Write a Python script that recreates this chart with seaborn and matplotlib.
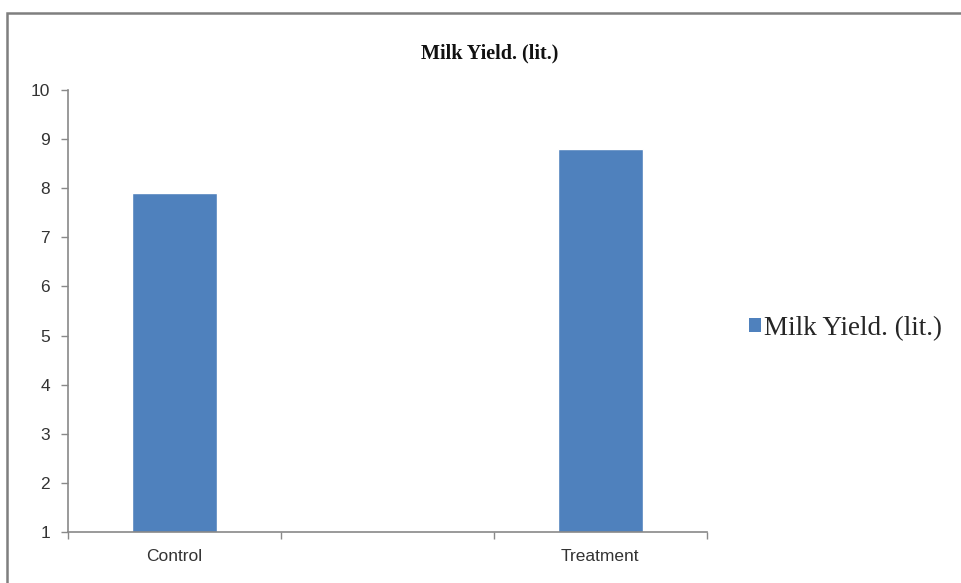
import numpy as np
import pandas as pd
import seaborn as sns
import matplotlib.pyplot as plt
from matplotlib.patches import Rectangle, Patch

# Milk yield per group (litres); the middle slot is an empty category
categories = ["Control", "", "Treatment"]
milk_yield = [7.9, np.nan, 8.8]
y_ticks = [1, 2, 3, 4, 5, 6, 7, 8, 9, 10]
series_name = "Milk Yield. (lit.)"

bar_color = "#4F81BD"
axis_color = "#898989"

sns.set_style("white")
plt.rcParams["font.family"] = ["Liberation Sans", "DejaVu Sans"]

df = pd.DataFrame({"group": categories, "value": milk_yield})

fig = plt.figure(figsize=(9.62, 5.83), dpi=100)
ax = fig.add_axes([0.0707, 0.0875, 0.664, 0.758])

sns.barplot(data=df, x="group", y="value", order=categories,
            color=bar_color, saturation=1, width=0.40, ax=ax)

ax.set_xlim(-0.5, 2.5)
ax.set_ylim(y_ticks[0], y_ticks[-1])
ax.set_yticks(y_ticks)
ax.set_yticklabels([str(t) for t in y_ticks])
ax.set_xlabel("")
ax.set_ylabel("")

# category boundaries carry the tick marks, labels sit at the centres
ax.set_xticks(range(len(categories)))
ax.set_xticklabels(categories)
ax.set_xticks(np.arange(-0.5, len(categories), 1.0), minor=True)
ax.tick_params(axis="x", which="major", bottom=True, length=0, pad=12,
               labelsize=12.5, labelcolor="#333333")
ax.tick_params(axis="x", which="minor", bottom=True, length=5, width=1,
               color=axis_color, direction="out")
ax.tick_params(axis="y", which="major", left=True, length=5, width=1,
               color=axis_color, direction="out", pad=8,
               labelsize=12.5, labelcolor="#333333")

for side in ["top", "right"]:
    ax.spines[side].set_visible(False)
for side in ["left", "bottom"]:
    ax.spines[side].set_color(axis_color)
    ax.spines[side].set_linewidth(1.2)

fig.text(0.509, 0.909, series_name, ha="center", va="center",
         fontsize=14.5, fontweight="bold", family="Liberation Serif",
         color="#111111")

handle = Patch(facecolor=bar_color, edgecolor="none")
fig.legend([handle], [series_name], loc="center left",
           bbox_to_anchor=(0.767, 0.437), frameon=False,
           prop={"family": "Liberation Serif", "size": 19.5},
           handlelength=0.45, handleheight=0.45, handletextpad=0.12,
           borderaxespad=0)

# outer chart frame
fig.patches.append(Rectangle((0.0075, -0.05), 1.1, 1.028,
                             transform=fig.transFigure, fill=False,
                             edgecolor="#7f7f7f", linewidth=1.8))

fig.savefig("out.png", dpi=100)
